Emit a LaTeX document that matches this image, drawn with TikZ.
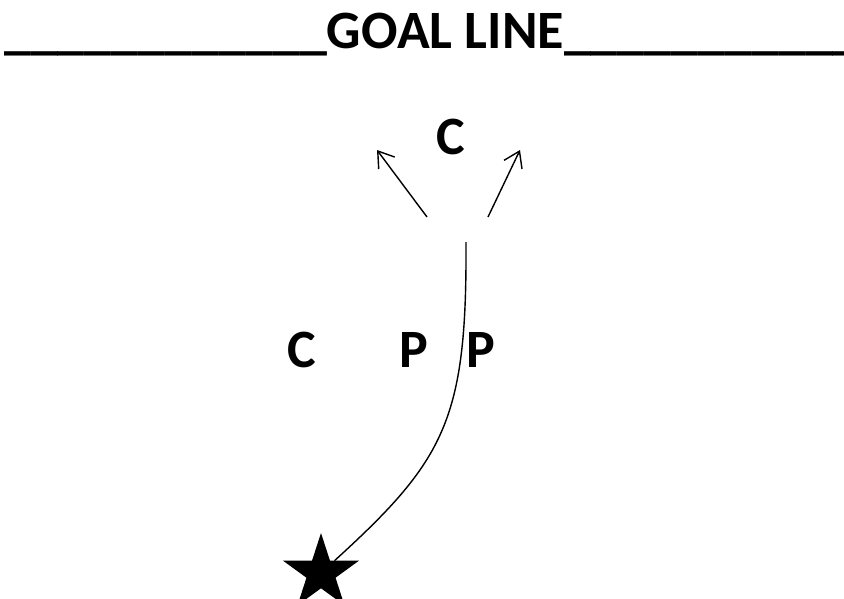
\documentclass[tikz,border=0pt]{standalone}
\usepackage{fontspec}
\setmainfont{Carlito}
\usetikzlibrary{shapes.geometric,arrows.meta}
\begin{document}
\begin{tikzpicture}[x=1pt,y=-1pt,
  lbl/.style={font=\fontsize{54}{60}\selectfont\bfseries, inner sep=0pt, anchor=base},
  conn/.style={line width=1.4pt},
  arr/.style={conn, -{Straight Barb[length=15pt,width=20pt,line width=1.4pt]}}]
\useasboundingbox (0,0) rectangle (844,598);
\node[lbl, anchor=base west] (title) at (4,48) {\_\_\_\_\_\_\_\_\_\_\_\_GOAL LINE\_\_\_\_\_\_\_\_\_\_\_};
\node[lbl] (ctop) at (451,154) {C};
\node[lbl] (cleft) at (302,367) {C};
\node[lbl] (pmid) at (414,367) {P};
\node[lbl] (pright) at (481,367) {P};
\node[star, star points=5, star point ratio=2.618, minimum size=80pt, inner sep=0pt, outer sep=0pt, fill=black] (star) at (321,573) {};
\coordinate (a1) at (427,217);
\coordinate (a1e) at (377,150);
\coordinate (a2) at (488,217);
\coordinate (a2e) at (520,150);
\coordinate (s) at (466,242);
\draw[arr] (a1) -- (a1e);
\draw[arr] (a2) -- (a2e);
\draw[conn] (s) .. controls (467,420) and (445,460) .. (star);
\end{tikzpicture}
\end{document}
